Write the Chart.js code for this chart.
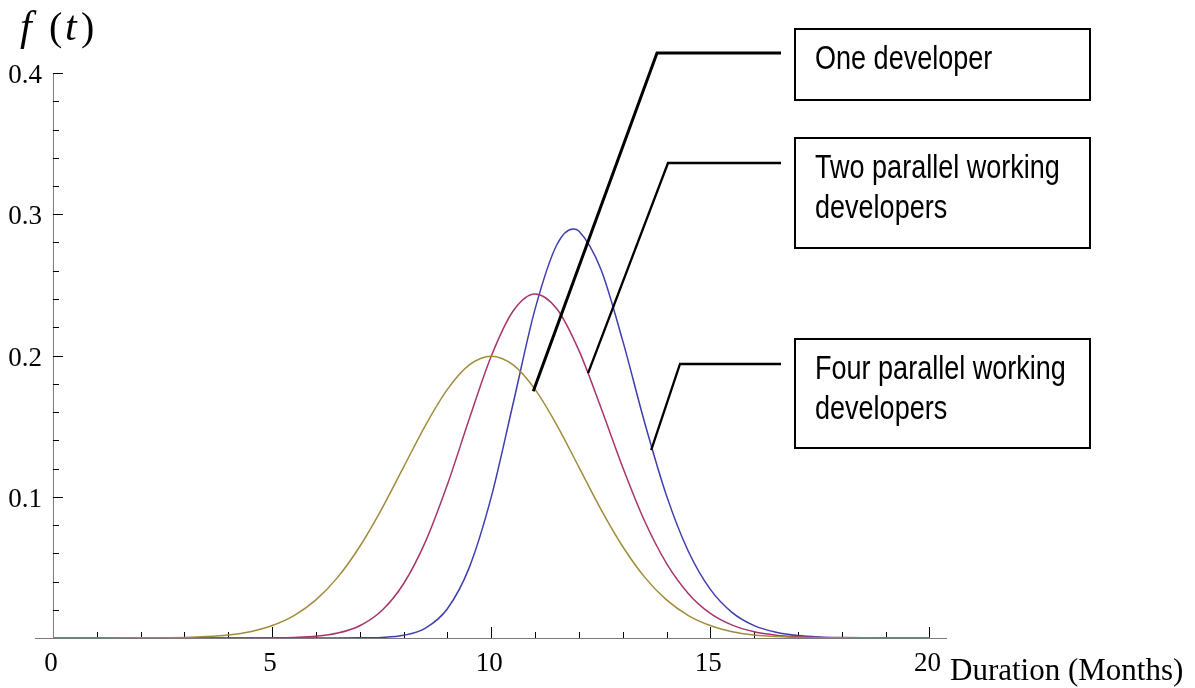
<!DOCTYPE html>
<html>
<head>
<meta charset="utf-8">
<script src="https://cdn.jsdelivr.net/npm/chart.js@4"></script>
<style>
  body { margin: 0; background: #fff; }
</style>
</head>
<body>
<canvas id="myChart" width="1195" height="688"></canvas>
<script>
// Duracion del proyecto (meses) y densidad f(t)
const monthsOne = [0, 1, 2, 3, 3.5, 4, 4.5, 5, 5.5, 6, 6.5, 7, 7.5, 8, 8.5, 9, 9.5, 10, 10.5, 11, 11.5, 12, 12.5, 13, 13.5, 14, 14.5, 15, 15.5, 16, 16.5, 17, 18, 19, 20];
const densityOne = [0, 0, 0.0001, 0.0004, 0.0010, 0.0022, 0.0045, 0.0088, 0.0159, 0.0270, 0.0431, 0.0648, 0.0913, 0.1210, 0.1506, 0.1760, 0.1933, 0.1995, 0.1933, 0.1760, 0.1506, 0.1210, 0.0913, 0.0648, 0.0431, 0.0270, 0.0159, 0.0088, 0.0045, 0.0022, 0.0010, 0.0004, 0.0001, 0, 0];

const monthsTwo = [0, 1, 2, 3, 4, 4.5, 5, 5.5, 6, 6.5, 7, 7.5, 8, 8.5, 9, 9.5, 10, 10.5, 11, 11.5, 12, 12.5, 13, 13.5, 14, 14.5, 15, 15.5, 16, 16.5, 17, 17.5, 18, 19, 20];
const densityTwo = [0, 0, 0, 0, 0, 0, 0.0001, 0.0004, 0.0012, 0.0035, 0.0087, 0.0193, 0.0384, 0.0682, 0.1086, 0.1552, 0.1995, 0.2315, 0.2436, 0.2329, 0.2036, 0.1634, 0.1209, 0.0828, 0.0528, 0.0314, 0.0174, 0.0091, 0.0044, 0.0020, 0.0009, 0.0004, 0.0001, 0, 0];

const monthsFour = [0, 2, 4, 6, 6.5, 7, 7.5, 8, 8.5, 9, 9.5, 10, 10.5, 11, 11.5, 11.87, 12, 12.5, 13, 13.5, 14, 14.5, 15, 15.5, 16, 16.5, 17, 17.5, 18, 18.5, 19, 20];
const densityFour = [0, 0, 0, 0, 0, 0.0001, 0.0004, 0.0019, 0.0070, 0.0207, 0.0500, 0.0997, 0.1660, 0.2328, 0.2786, 0.2896, 0.2882, 0.2613, 0.2105, 0.1526, 0.1008, 0.0612, 0.0344, 0.0180, 0.0088, 0.0041, 0.0017, 0.0007, 0.0003, 0.0001, 0, 0];

// Ticks de los ejes
const xMajorTicks = [0, 5, 10, 15, 20];
const xTickLabels = ['0', '5', '10', '15', '20'];
const xMinorTicks = [1, 2, 3, 4, 6, 7, 8, 9, 11, 12, 13, 14, 16, 17, 18, 19];
const yMajorTicks = [0.1, 0.2, 0.3, 0.4];
const yTickLabels = ['0.1', '0.2', '0.3', '0.4'];
const yMinorTicks = [0.02, 0.04, 0.06, 0.08, 0.12, 0.14, 0.16, 0.18, 0.22, 0.24, 0.26, 0.28, 0.32, 0.34, 0.36, 0.38];

// Etiquetas de las cajas y el punto de la curva al que apuntan
const calloutLines = [['One developer'], ['Two parallel working', 'developers'], ['Four parallel working', 'developers']];
const calloutMonths = [10.96, 12.21, 13.65];
const calloutDensity = [0.1747, 0.1875, 0.133];

(() => {
    const ctxChart = document.getElementById('myChart').getContext('2d');

    const toPoints = (xs, ys) => xs.map((x, i) => ({ x: x, y: ys[i] }));

    // ejes estilo Mathematica: ticks hacia adentro
    const axesPlugin = {
        id: 'axesPlugin',
        beforeDatasetsDraw(chart) {
            const ctx = chart.ctx;
            const xs = chart.scales.x;
            const ys = chart.scales.y;
            const x0 = xs.getPixelForValue(0);
            const y0 = ys.getPixelForValue(0);
            ctx.save();
            ctx.lineWidth = 1;
            ctx.strokeStyle = '#7a7a7a';
            ctx.beginPath();
            ctx.moveTo(xs.left, y0 + 0.5);
            ctx.lineTo(xs.right, y0 + 0.5);
            ctx.moveTo(x0 + 0.5, y0);
            ctx.lineTo(x0 + 0.5, ys.getPixelForValue(0.4));
            ctx.stroke();

            ctx.strokeStyle = '#000';
            ctx.beginPath();
            xMajorTicks.forEach(v => {
                if (v === 0) return;
                const px = Math.round(xs.getPixelForValue(v)) + 0.5;
                ctx.moveTo(px, y0);
                ctx.lineTo(px, y0 - 11);
            });
            xMinorTicks.forEach(v => {
                const px = Math.round(xs.getPixelForValue(v)) + 0.5;
                ctx.moveTo(px, y0);
                ctx.lineTo(px, y0 - 6);
            });
            yMajorTicks.forEach(v => {
                const py = Math.round(ys.getPixelForValue(v)) + 0.5;
                ctx.moveTo(x0, py);
                ctx.lineTo(x0 + 10, py);
            });
            yMinorTicks.forEach(v => {
                const py = Math.round(ys.getPixelForValue(v)) + 0.5;
                ctx.moveTo(x0, py);
                ctx.lineTo(x0 + 6, py);
            });
            ctx.stroke();

            // numeros de los ejes
            ctx.fillStyle = '#000';
            ctx.font = '27px "Liberation Serif", "Times New Roman", serif';
            ctx.textAlign = 'center';
            ctx.textBaseline = 'alphabetic';
            xMajorTicks.forEach((v, i) => {
                ctx.fillText(xTickLabels[i], xs.getPixelForValue(v) - 2, y0 + 33);
            });
            ctx.textAlign = 'right';
            yMajorTicks.forEach((v, i) => {
                ctx.fillText(yTickLabels[i], x0 - 11, ys.getPixelForValue(v) + 10);
            });

            // titulos de los ejes
            ctx.textAlign = 'left';
            ctx.font = '31px "Liberation Serif", "Times New Roman", serif';
            ctx.fillText('Duration (Months)', 950, y0 + 42);
            ctx.font = 'italic 42px "Liberation Serif", "Times New Roman", serif';
            ctx.fillText('f', 20, 40);
            ctx.fillText('t', 65, 40);
            ctx.font = '40px "Liberation Serif", "Times New Roman", serif';
            ctx.fillText('(', 49, 40);
            ctx.fillText(')', 81, 40);
            ctx.restore();
        }
    };

    // cajas con lineas que apuntan a cada curva
    const boxTop = [29, 138, 339];
    const boxHeight = [71, 110, 109];
    const elbowX = [657, 668, 680];
    const elbowY = [53, 163, 364];
    const leaderWidth = [3, 2.3, 2.3];
    const calloutPlugin = {
        id: 'calloutPlugin',
        afterDraw(chart) {
            const ctx = chart.ctx;
            const xs = chart.scales.x;
            const ys = chart.scales.y;
            ctx.save();
            ctx.strokeStyle = '#000';
            calloutLines.forEach((lines, i) => {
                const px = xs.getPixelForValue(calloutMonths[i]);
                const py = ys.getPixelForValue(calloutDensity[i]);
                ctx.lineWidth = leaderWidth[i];
                ctx.beginPath();
                ctx.moveTo(px, py);
                ctx.lineTo(elbowX[i], elbowY[i]);
                ctx.lineTo(781, elbowY[i]);
                ctx.stroke();

                ctx.lineWidth = 2;
                ctx.strokeRect(795, boxTop[i], 295, boxHeight[i]);

                // letra condensada: se angosta la sans normal
                ctx.fillStyle = '#000';
                ctx.font = '34px "Liberation Sans", Arial, sans-serif';
                ctx.textAlign = 'left';
                lines.forEach((txt, j) => {
                    ctx.save();
                    ctx.translate(815, boxTop[i] + 40 + j * 40);
                    ctx.scale(0.795, 1);
                    ctx.fillText(txt, 0, 0);
                    ctx.restore();
                });
            });
            ctx.restore();
        }
    };

    const grafica = new Chart(ctxChart, {
        type: 'line',
        data: {
            datasets: [
                {
                    label: 'One developer',
                    data: toPoints(monthsOne, densityOne),
                    borderColor: 'rgb(160,140,60)'
                },
                {
                    label: 'Two parallel working developers',
                    data: toPoints(monthsTwo, densityTwo),
                    borderColor: 'rgb(168,52,110)'
                },
                {
                    label: 'Four parallel working developers',
                    data: toPoints(monthsFour, densityFour),
                    borderColor: 'rgb(62,62,175)'
                }
            ]
        },
        options: {
            responsive: false,
            animation: false,
            datasets: {
                line: {
                    borderWidth: 1.5,
                    pointRadius: 0,
                    fill: false,
                    cubicInterpolationMode: 'monotone'
                }
            },
            layout: {
                padding: { left: 35, right: 248, top: 73, bottom: 50 }
            },
            plugins: {
                legend: { display: false },
                tooltip: { enabled: false }
            },
            scales: {
                x: { type: 'linear', min: -0.41, max: 20.4, display: false },
                y: { type: 'linear', min: 0, max: 0.4, display: false }
            }
        },
        plugins: [axesPlugin, calloutPlugin]
    });
})()
</script>
</body>
</html>
